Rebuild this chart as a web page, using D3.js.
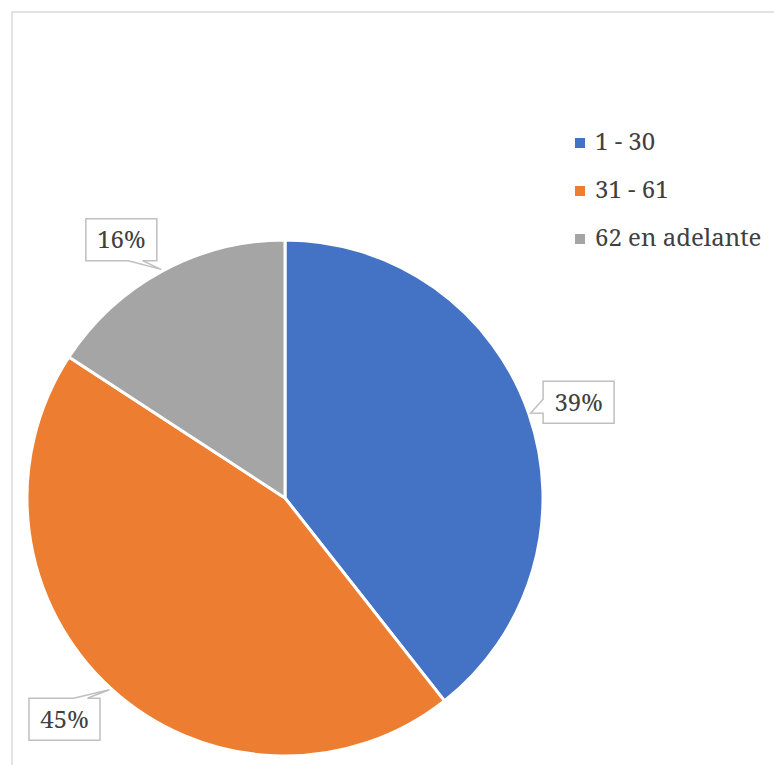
<!DOCTYPE html>
<html>
<head>
	<meta charset="utf-8">
	<style>
		body { margin: 0; background: #fff; }
		.lbl, .legend text {
			font-family: 'Noto Serif', 'DejaVu Serif', serif;
			font-size: 24px;
			fill: #404040;
		}
		.callout { fill: #fff; stroke: #bfbfbf; stroke-width: 1.5; }
	</style>
	<script src="https://d3js.org/d3.v7.min.js"></script>
</head>
<body>
<script>
	var categories = ['1 - 30', '31 - 61', '62 en adelante'];
	var values = [39.4, 44.8, 15.8];
	var labels = ['39%', '45%', '16%'];
	var colors = ['#4472C4', '#ED7D31', '#A5A5A5'];

	var width = 774, height = 765,
		cx = 285, cy = 498, radius = 258,
		boxW = 71, boxH = 42;
	// small nudges of the data labels away from the plain centroid (best-fit look)
	var nudge = [[2.5, 5], [-12.5, -6], [-17, 12.5]];

	var svg = d3.select('body').append('svg')
		.attr('width', width)
		.attr('height', height);

	// chart area border
	svg.append('rect')
		.attr('x', 12).attr('y', 12)
		.attr('width', 800).attr('height', 800)
		.attr('fill', 'none')
		.attr('stroke', '#d9d9d9')
		.attr('stroke-width', 1.5);

	var data = categories.map((c, i) => ({name: c, value: values[i], label: labels[i], color: colors[i]}));

	var pie = d3.pie().sort(null).value(d => d.value);
	var arcs = pie(data);

	var arc = d3.arc().innerRadius(0).outerRadius(radius);
	var tipArc = d3.arc().innerRadius(radius + 2).outerRadius(radius + 2);
	var labelArc = d3.arc().innerRadius(308).outerRadius(308);

	function labelPos(d) {
		var c = labelArc.centroid(d), n = nudge[d.index];
		return [c[0] + n[0], c[1] + n[1]];
	}

	var g = svg.append('g').attr('transform', 'translate(' + cx + ',' + cy + ')');

	g.selectAll('path.slice')
		.data(arcs)
		.enter().append('path')
		.attr('class', 'slice')
		.attr('d', arc)
		.attr('fill', d => d.data.color)
		.attr('stroke', '#fff')
		.attr('stroke-width', 3);

	// callout path: box centred at (bx, by) with a pointer to (tx, ty)
	function callout(bx, by, tx, ty) {
		var x0 = bx - boxW / 2, x1 = bx + boxW / 2,
			y0 = by - boxH / 2, y1 = by + boxH / 2,
			dx = tx - bx, dy = ty - by, hw = 7;
		var edge, p;
		if (Math.abs(dx) / (boxW / 2) > Math.abs(dy) / (boxH / 2)) {
			edge = dx > 0 ? 'right' : 'left';
			var ex = dx > 0 ? x1 : x0;
			p = by + (dy * (ex - bx) / dx) / 2;
		} else {
			edge = dy > 0 ? 'bottom' : 'top';
			var ey = dy > 0 ? y1 : y0;
			p = bx + (dx * (ey - by) / dy) / 2;
		}
		var path = d3.path();
		path.moveTo(x0, y0);
		if (edge === 'top') { path.lineTo(p - hw, y0); path.lineTo(tx, ty); path.lineTo(p + hw, y0); }
		path.lineTo(x1, y0);
		if (edge === 'right') { path.lineTo(x1, p - hw); path.lineTo(tx, ty); path.lineTo(x1, p + hw); }
		path.lineTo(x1, y1);
		if (edge === 'bottom') { path.lineTo(p + hw, y1); path.lineTo(tx, ty); path.lineTo(p - hw, y1); }
		path.lineTo(x0, y1);
		if (edge === 'left') { path.lineTo(x0, p + hw); path.lineTo(tx, ty); path.lineTo(x0, p - hw); }
		path.closePath();
		return path.toString();
	}

	var lbl = g.selectAll('g.lblg')
		.data(arcs)
		.enter().append('g')
		.attr('class', 'lblg');

	lbl.append('path')
		.attr('class', 'callout')
		.attr('d', d => {
			var c = labelPos(d), t = tipArc.centroid(d);
			return callout(c[0], c[1], t[0], t[1]);
		});

	lbl.append('text')
		.attr('class', 'lbl')
		.attr('x', d => labelPos(d)[0])
		.attr('y', d => labelPos(d)[1])
		.attr('dy', '0.35em')
		.attr('text-anchor', 'middle')
		.text(d => d.data.label);

	// legend
	var ly = d3.scalePoint().domain(categories).range([143, 239]);
	var legend = svg.append('g').attr('class', 'legend')
		.selectAll('g')
		.data(data)
		.enter().append('g')
		.attr('transform', d => 'translate(575,' + ly(d.name) + ')');

	legend.append('rect')
		.attr('x', 0).attr('y', -5)
		.attr('width', 10).attr('height', 10)
		.attr('fill', d => d.color);

	legend.append('text')
		.attr('x', 20)
		.attr('y', 7)
		.text(d => d.name);
</script>
</body>
</html>
